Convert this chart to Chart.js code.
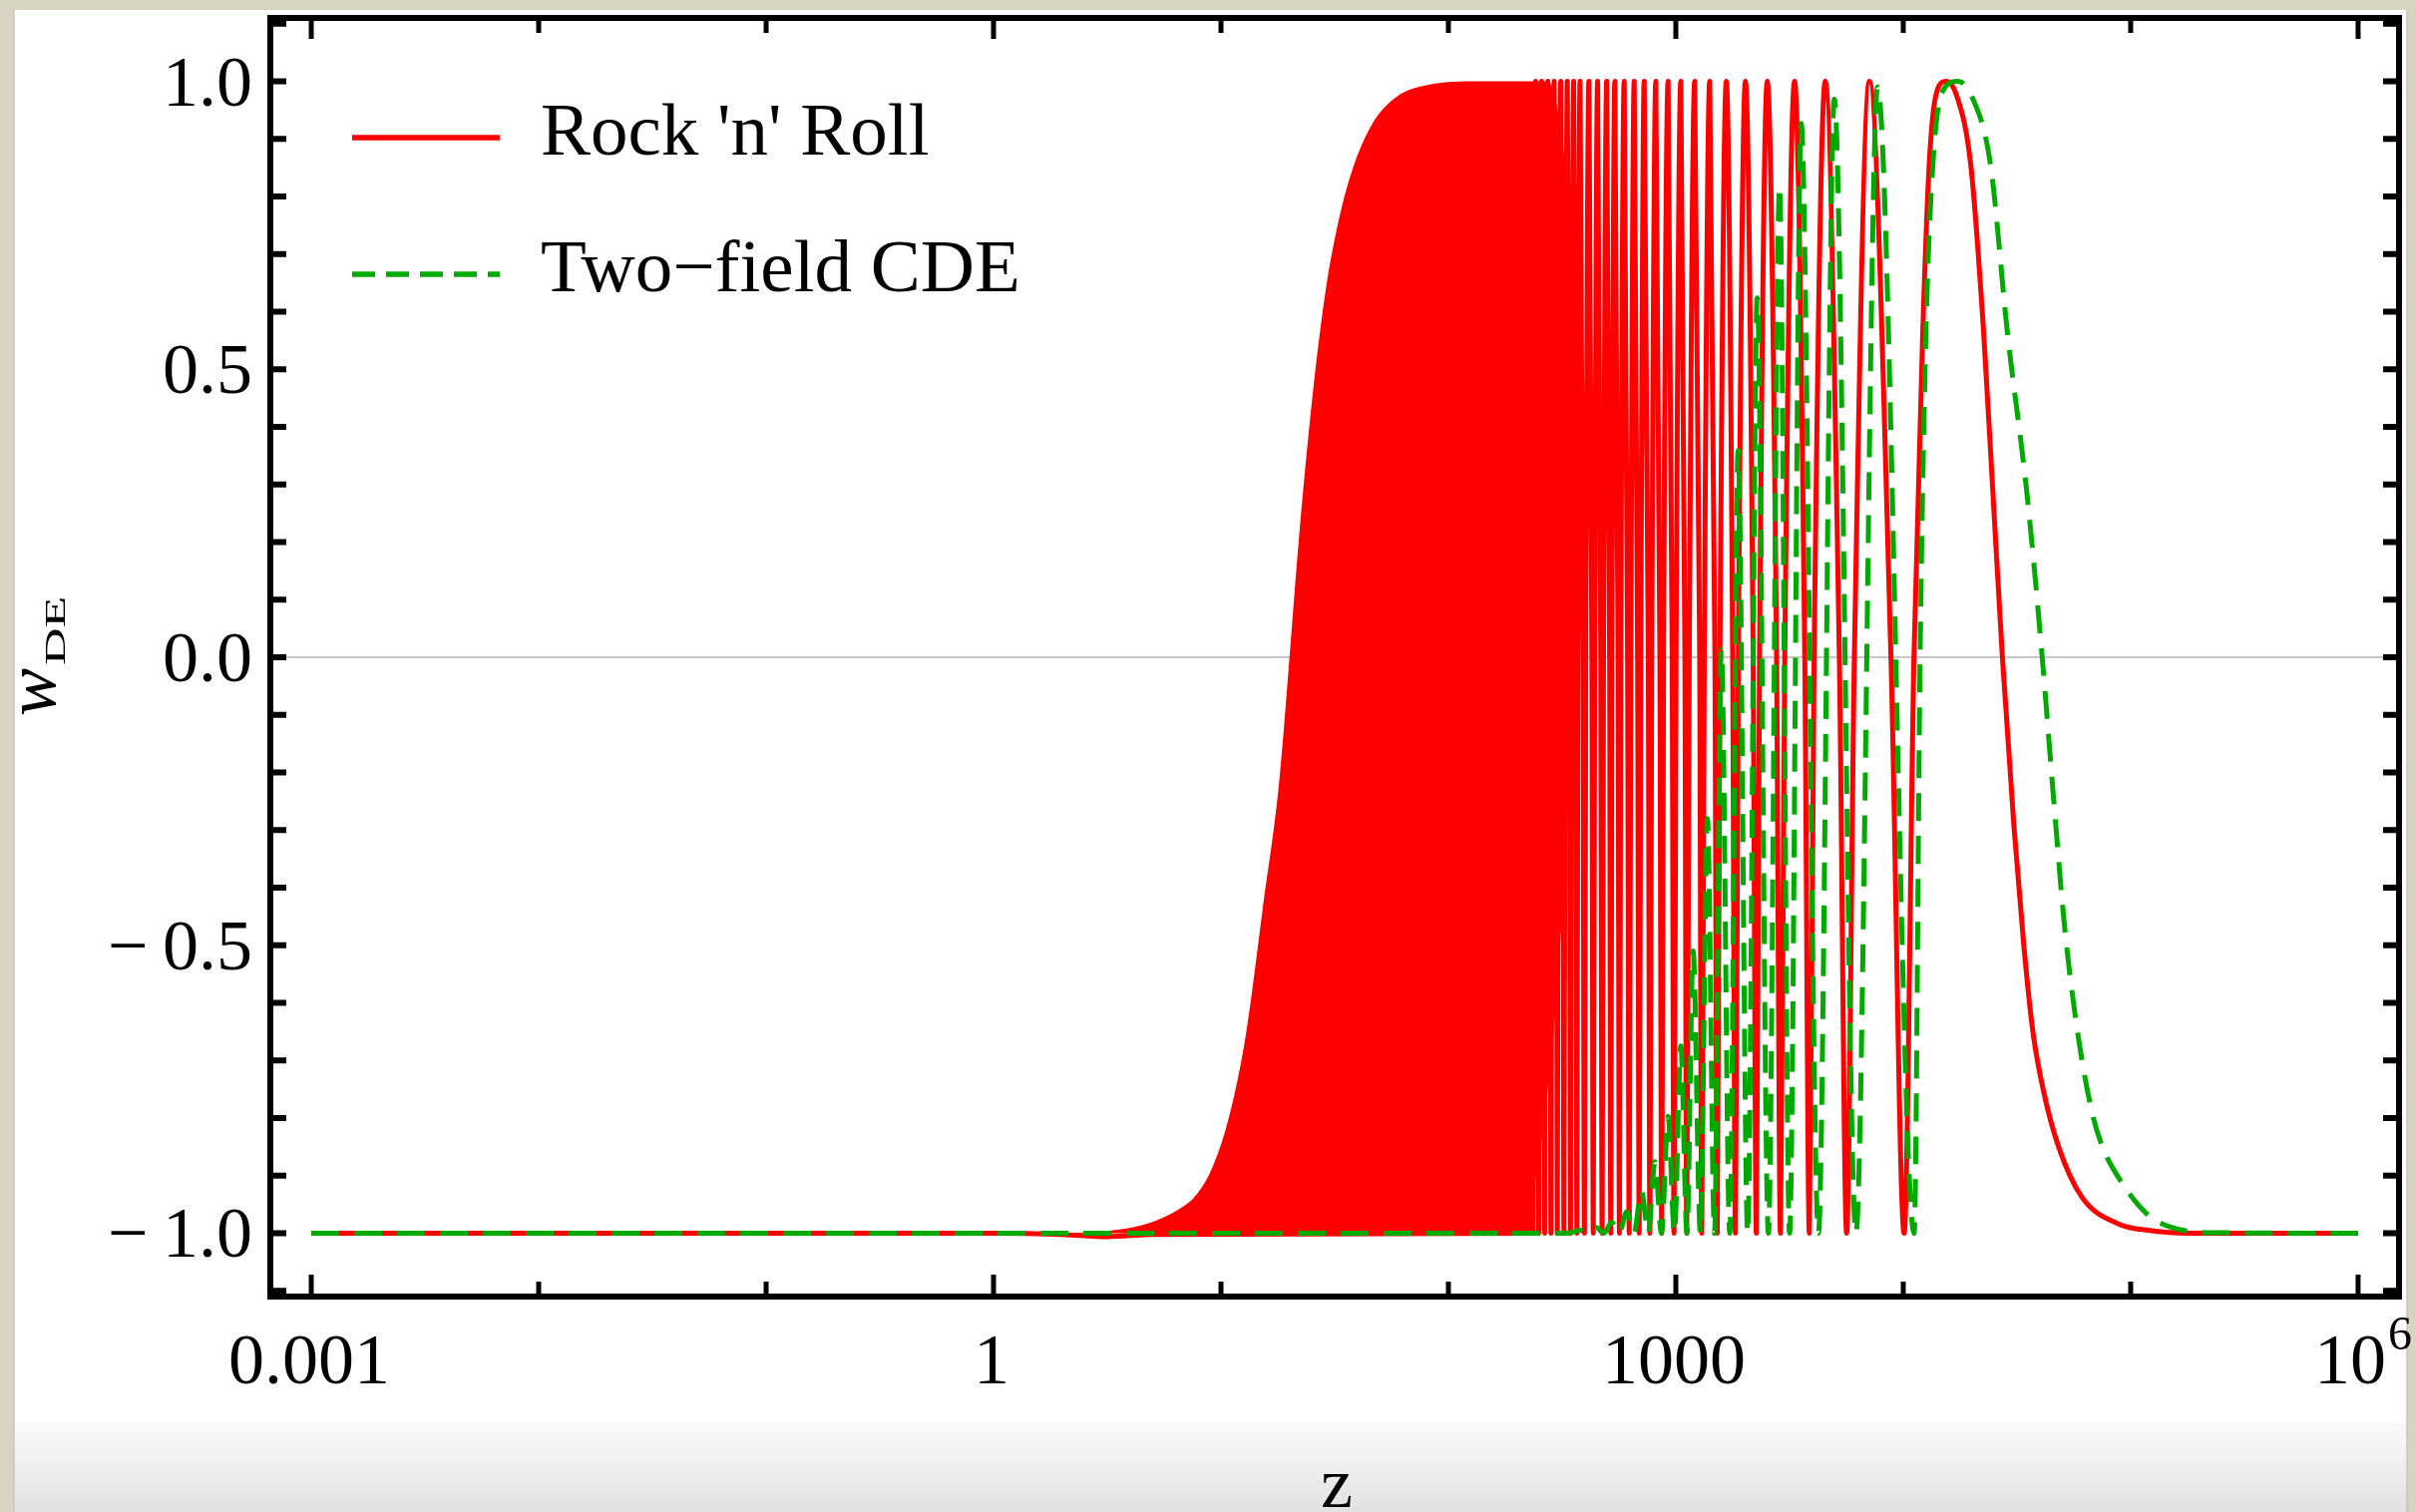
<!DOCTYPE html>
<html>
<head>
<meta charset="utf-8">
<script src="https://cdn.jsdelivr.net/npm/chart.js@4.4.1/dist/chart.umd.min.js"></script>
<style>
  html, body { margin: 0; padding: 0; overflow: hidden; background: #d9d3c1; }
  canvas { display: block; }
</style>
</head>
<body>
<canvas id="wde" width="2422" height="1516"></canvas>
<script>

// Rock 'n' Roll
const redLeadLogZ = [-3, 0, 0.3, 0.5, 0.7];
const redLeadW = [-1, -1, -1.002, -1.006, -1.002];
// band where the oscillations are too fast to resolve: upper edge and the
// height the white gaps between swings reach up to
const redBandLogZ = [0.3, 0.5, 0.671, 0.817, 0.89, 0.964, 1.036, 1.11, 1.183, 1.256, 1.3, 1.343, 1.402, 1.461, 1.519, 1.578, 1.665, 1.768, 1.914, 2.133, 2.36, 2.382, 2.412, 2.439, 2.469, 2.5, 2.526, 2.557, 2.586, 2.614];
const redBandTopW = [-1, -0.996, -0.984, -0.958, -0.934, -0.884, -0.797, -0.654, -0.438, -0.216, -0.007, 0.208, 0.452, 0.639, 0.761, 0.847, 0.926, 0.972, 0.994, 1, 1, 1, 1, 1, 0.97, 0.9, 0.8, 0.65, 0.45, 0.3];
const redBandFloorW = [-1, -1, -1, -1, -1, -1, -1, -1, -1, -1, -1, -1, -1, -1, -1, -1, -1, -1, -1, -1, -1, -0.91, -0.83, -0.74, -0.62, -0.44, -0.19, -0.04, 0.11, 0.3];
// resolved oscillations: peaks at w = 1, narrow troughs at w = -1,
// and the w = 0 crossings on either side of each trough
const redPeakLogZ = [2.384, 2.41, 2.437, 2.465, 2.494, 2.523, 2.551, 2.579, 2.618, 2.656, 2.696, 2.732, 2.773, 2.817, 2.861, 2.912, 2.966, 3.022, 3.083, 3.149, 3.222, 3.306, 3.402, 3.522, 3.657, 3.851];
const redTroughLogZ = [2.372, 2.397, 2.423, 2.451, 2.479, 2.508, 2.537, 2.565, 2.598, 2.637, 2.676, 2.714, 2.752, 2.795, 2.839, 2.886, 2.938, 2.992, 3.048, 3.114, 3.182, 3.262, 3.354, 3.46, 3.587, 3.751];
const redFallLogZ = [2.393, 2.419, 2.447, 2.475, 2.504, 2.533, 2.561, 2.592, 2.631, 2.67, 2.709, 2.746, 2.788, 2.832, 2.879, 2.93, 2.984, 3.04, 3.105, 3.172, 3.25, 3.34, 3.443, 3.567, 3.719];
const redRiseLogZ = [2.376, 2.401, 2.427, 2.455, 2.483, 2.513, 2.541, 2.569, 2.604, 2.643, 2.682, 2.719, 2.758, 2.802, 2.846, 2.894, 2.946, 3.001, 3.059, 3.125, 3.194, 3.275, 3.368, 3.479, 3.608, 3.785];
// last swing and the decay back to -1
const redTailLogZ = [3.946, 4.004, 4.047, 4.086, 4.114, 4.143, 4.187, 4.235, 4.297, 4.353, 4.395, 4.436, 4.487, 4.53, 4.57, 4.615, 4.683, 4.785, 4.941, 5.1, 5.3, 6];
const redTailW = [0, -1, 0, 0.567, 0.854, 0.975, 1, 0.975, 0.854, 0.567, 0.28, 0, -0.295, -0.5, -0.65, -0.75, -0.85, -0.937, -0.983, -0.996, -1, -1];

// Two-field CDE
const greenLeadLogZ = [-3, 2.52];
const greenLeadW = [-1, -1];
const greenPeakLogZ = [2.58, 2.65, 2.718, 2.784, 2.849, 2.908, 2.966, 3.022, 3.076, 3.139, 3.2, 3.274, 3.358, 3.456, 3.551, 3.697, 3.887];
const greenPeakW = [-0.995, -0.99, -0.981, -0.963, -0.927, -0.876, -0.797, -0.675, -0.51, -0.28, 0.014, 0.359, 0.624, 0.818, 0.927, 0.969, 0.99];
const greenTroughLogZ = [2.615, 2.684, 2.751, 2.816, 2.879, 2.937, 2.994, 3.049, 3.108, 3.17, 3.237, 3.316, 3.407, 3.5, 3.627, 3.792];
const greenTailLogZ = [4.048, 4.074, 4.1, 4.13, 4.17, 4.239, 4.3, 4.384, 4.457, 4.545, 4.611, 4.66, 4.71, 4.77, 4.83, 4.876, 4.954, 5.07, 5.173, 5.35, 6];
const greenTailW = [-1, 0, 0.567, 0.854, 0.98, 1, 0.975, 0.854, 0.567, 0.28, 0, -0.24, -0.47, -0.66, -0.79, -0.85, -0.908, -0.966, -0.989, -0.999, -1];

// axes
const yTickValues = [1, 0.5, 0, -0.5, -1];
const yTickLabels = ["1.0", "0.5", "0.0", "\u2212\u20090.5", "\u2212\u20091.0"];
const xMajorExp = [-3, 0, 3, 6];
const xMajorLabels = ["0.001", "1", "1000", "10^6"];
const xMinorExp = [-2, -1, 1, 2, 4, 5];

const RED = "#ff0000";
const GREEN = "#00aa00";
const SERIF = '"Liberation Serif", "Times New Roman", serif';

function toPoints(logz, w) {
  return logz.map((v, i) => ({ x: Math.pow(10, v), y: w[i] }));
}
function flat(logz, value) {
  return toPoints(logz, logz.map(() => value));
}

const redOsc = flat(redPeakLogZ, 1)
  .concat(flat(redTroughLogZ, -1), flat(redFallLogZ, 0), flat(redRiseLogZ, 0))
  .sort((a, b) => a.x - b.x);
const redLine = toPoints(redLeadLogZ, redLeadW).concat(redOsc, toPoints(redTailLogZ, redTailW));

const greenOsc = toPoints(greenPeakLogZ, greenPeakW)
  .concat(flat(greenTroughLogZ, -1))
  .sort((a, b) => a.x - b.x);
const greenLine = toPoints(greenLeadLogZ, greenLeadW).concat(greenOsc, toPoints(greenTailLogZ, greenTailW));

function seg(ctx, x1, y1, x2, y2) {
  ctx.beginPath();
  ctx.moveTo(x1, y1);
  ctx.lineTo(x2, y2);
  ctx.stroke();
}

const backdrop = {
  id: "backdrop",
  beforeDraw(chart) {
    const ctx = chart.ctx;
    ctx.save();
    ctx.fillStyle = "#d9d3c1";
    ctx.fillRect(0, 0, chart.width, chart.height);
    ctx.fillStyle = "#ffffff";
    ctx.fillRect(14, 10, 2399, 1506);
    const g = ctx.createLinearGradient(0, 1427, 0, 1516);
    g.addColorStop(0, "#fafafa");
    g.addColorStop(1, "#e2e2e2");
    ctx.fillStyle = g;
    ctx.fillRect(14, 1427, 2399, 89);
    ctx.strokeStyle = "#c4c4c4";
    ctx.lineWidth = 1.5;
    seg(ctx, 14, 10, 14, 1516);
    seg(ctx, 2413, 10, 2413, 1516);
    ctx.restore();
  },
  beforeDatasetsDraw(chart) {
    const ctx = chart.ctx;
    const { left, right } = chart.chartArea;
    const y0 = chart.scales.y.getPixelForValue(0);
    ctx.save();
    ctx.strokeStyle = "#b4b4b4";
    ctx.lineWidth = 1.5;
    seg(ctx, left, y0, right, y0);
    ctx.restore();
  }
};

const frame = {
  id: "frame",
  afterDraw(chart) {
    const ctx = chart.ctx;
    const { left, right, top, bottom } = chart.chartArea;
    const xs = chart.scales.x;
    const ys = chart.scales.y;
    ctx.save();
    ctx.strokeStyle = "#000";
    ctx.lineCap = "butt";
    ctx.lineWidth = 6;
    ctx.strokeRect(left, top, right - left, bottom - top);

    // y ticks every 0.1 on both sides, pointing in
    for (let k = -11; k <= 11; k++) {
      const y = ys.getPixelForValue(k / 10);
      seg(ctx, left, y, left + 16, y);
      seg(ctx, right, y, right - 16, y);
    }
    // x ticks, longer at the labelled decades
    ctx.lineWidth = 5;
    xMajorExp.forEach(e => {
      const x = xs.getPixelForValue(Math.pow(10, e));
      seg(ctx, x, bottom, x, bottom - 22);
      seg(ctx, x, top, x, top + 21);
    });
    xMinorExp.forEach(e => {
      const x = xs.getPixelForValue(Math.pow(10, e));
      seg(ctx, x, bottom, x, bottom - 15);
      seg(ctx, x, top, x, top + 15);
    });

    ctx.fillStyle = "#000";
    ctx.font = "72px " + SERIF;
    ctx.textBaseline = "alphabetic";
    ctx.textAlign = "right";
    yTickValues.forEach((v, i) => {
      ctx.fillText(yTickLabels[i], 253, ys.getPixelForValue(v) + 24);
    });

    xMajorExp.forEach((e, i) => {
      const x = xs.getPixelForValue(Math.pow(10, e));
      const label = xMajorLabels[i];
      if (label.indexOf("^") > 0) {
        const [base, sup] = label.split("^");
        ctx.font = "72px " + SERIF;
        const wb = ctx.measureText(base).width;
        ctx.font = "48px " + SERIF;
        const ws = ctx.measureText(sup).width;
        const x0 = x - (wb + ws) / 2 + 4;
        ctx.textAlign = "left";
        ctx.font = "72px " + SERIF;
        ctx.fillText(base, x0, 1387);
        ctx.font = "48px " + SERIF;
        ctx.fillText(sup, x0 + wb + 2, 1353);
      } else {
        ctx.textAlign = "center";
        ctx.font = "72px " + SERIF;
        ctx.fillText(label, x - 2, 1387);
      }
    });

    // axis titles
    ctx.textAlign = "center";
    ctx.font = "72px " + SERIF;
    ctx.fillText("z", (left + right) / 2 + 2, 1511);

    ctx.save();
    ctx.translate(55, 718);
    ctx.rotate(-Math.PI / 2);
    ctx.textAlign = "left";
    ctx.font = "italic 72px " + SERIF;
    ctx.fillText("w", 0, 0);
    ctx.translate(51, 10);
    ctx.scale(1, 0.55);
    ctx.font = "52px " + SERIF;
    ctx.fillText("DE", 0, 0);
    ctx.restore();

    // legend
    ctx.lineWidth = 5.5;
    ctx.strokeStyle = RED;
    seg(ctx, 353, 138, 501, 138);
    ctx.strokeStyle = GREEN;
    ctx.setLineDash([23, 11]);
    seg(ctx, 353, 275, 501, 275);
    ctx.setLineDash([]);
    ctx.textAlign = "left";
    ctx.font = "75px " + SERIF;
    ctx.fillText("Rock 'n' Roll", 542, 155);
    ctx.fillText("Two\u2212field CDE", 542, 292);
    ctx.restore();
  }
};

new Chart(document.getElementById("wde"), {
  type: "line",
  data: {
    datasets: [
      {
        label: "Two-field CDE",
        data: greenLine,
        borderColor: GREEN,
        borderWidth: 5,
        borderDash: [28, 15],
        pointRadius: 0,
        fill: false,
        cubicInterpolationMode: "monotone",
        order: 0
      },
      {
        label: "Rock 'n' Roll",
        data: redLine,
        borderColor: RED,
        borderWidth: 5,
        borderJoinStyle: "round",
        pointRadius: 0,
        fill: false,
        cubicInterpolationMode: "monotone",
        order: 1
      },
      {
        label: "Rock 'n' Roll band",
        data: toPoints(redBandLogZ, redBandTopW),
        borderColor: RED,
        backgroundColor: RED,
        borderWidth: 0,
        pointRadius: 0,
        fill: "+1",
        cubicInterpolationMode: "monotone",
        order: 2
      },
      {
        label: "band floor",
        data: toPoints(redBandLogZ, redBandFloorW),
        borderColor: RED,
        borderWidth: 0,
        pointRadius: 0,
        fill: false,
        cubicInterpolationMode: "monotone",
        order: 3
      }
    ]
  },
  options: {
    responsive: false,
    devicePixelRatio: 1,
    animation: false,
    events: [],
    layout: { padding: { left: 271, right: 17, top: 18, bottom: 216 } },
    plugins: { legend: { display: false }, tooltip: { enabled: false } },
    scales: {
      x: { type: "logarithmic", min: Math.pow(10, -3.18), max: Math.pow(10, 6.18), display: false },
      y: { type: "linear", min: -1.11, max: 1.11, display: false }
    }
  },
  plugins: [backdrop, frame]
});
</script>
</body>
</html>
